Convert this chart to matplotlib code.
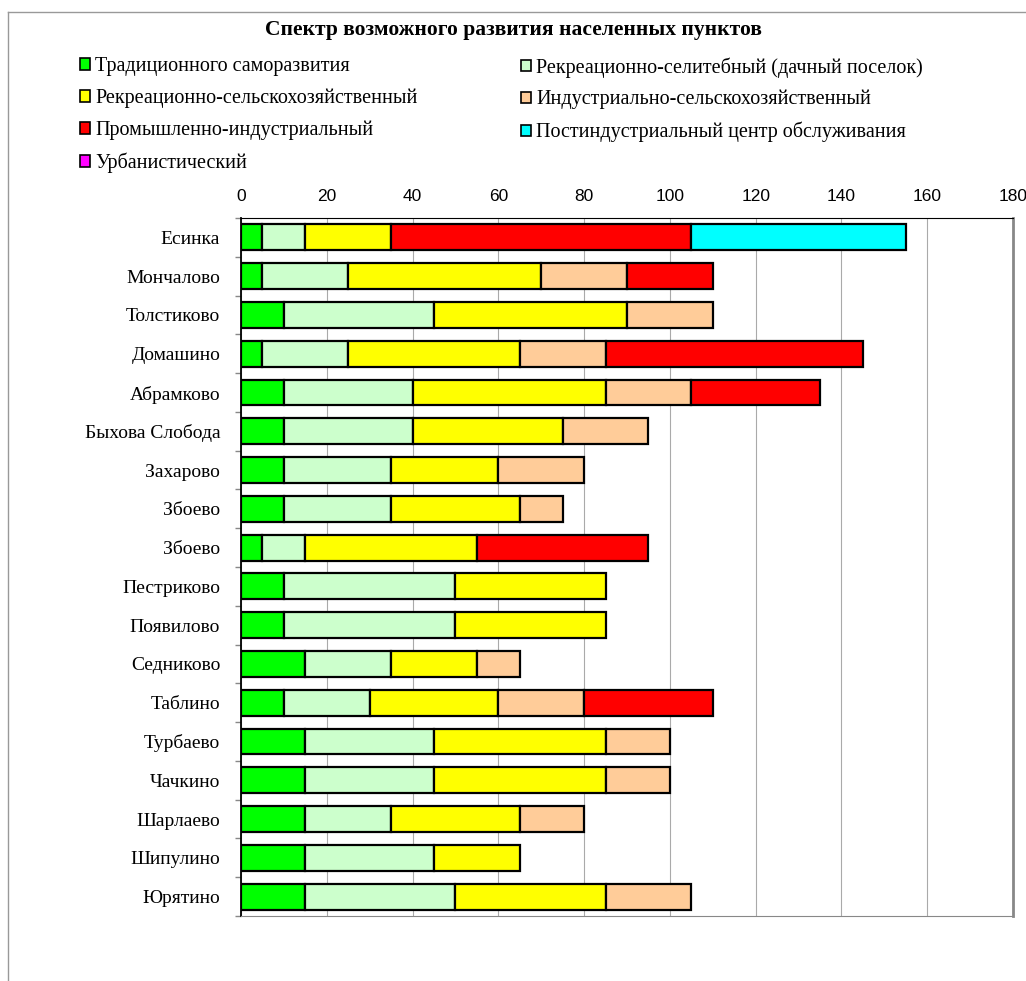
import numpy as np
import matplotlib.pyplot as plt
from matplotlib.patches import Patch
from matplotlib.lines import Line2D

places = ['Есинка', 'Мончалово', 'Толстиково', 'Домашино', 'Абрамково',
          'Быхова Слобода', 'Захарово', 'Збоево', 'Збоево', 'Пестриково',
          'Появилово', 'Седниково', 'Таблино', 'Турбаево', 'Чачкино',
          'Шарлаево', 'Шипулино', 'Юрятино']

series_names = ['Традиционного саморазвития',
                'Рекреационно-селитебный (дачный поселок)',
                'Рекреационно-сельскохозяйственный',
                'Индустриально-сельскохозяйственный',
                'Промышленно-индустриальный',
                'Постиндустриальный центр обслуживания',
                'Урбанистический']

traditional = [5, 5, 10, 5, 10, 10, 10, 10, 5, 10, 10, 15, 10, 15, 15, 15, 15, 15]
rec_selit = [10, 20, 35, 20, 30, 30, 25, 25, 10, 40, 40, 20, 20, 30, 30, 20, 30, 35]
rec_agri = [20, 45, 45, 40, 45, 35, 25, 30, 40, 35, 35, 20, 30, 40, 40, 30, 20, 35]
ind_agri = [0, 20, 20, 20, 20, 20, 20, 10, 0, 0, 0, 10, 20, 15, 15, 15, 0, 20]
prom_ind = [70, 20, 0, 60, 30, 0, 0, 0, 40, 0, 0, 0, 30, 0, 0, 0, 0, 0]
postind = [50, 0, 0, 0, 0, 0, 0, 0, 0, 0, 0, 0, 0, 0, 0, 0, 0, 0]
urban = [0] * 18

colors = ['#00FF00', '#CCFFCC', '#FFFF00', '#FFCC99', '#FF0000', '#00FFFF', '#FF00FF']
xticks = list(range(0, 181, 20))

serif = ['Liberation Serif', 'DejaVu Serif']
sans = ['Liberation Sans', 'DejaVu Sans']

fig = plt.figure(figsize=(10.26, 9.81), dpi=100)
ax = fig.add_axes([241/1026, 1 - 916/981, 772/1026, 698/981])

data = np.array([traditional, rec_selit, rec_agri, ind_agri, prom_ind, postind, urban], dtype=float)
y = np.arange(len(places))
left = np.zeros(len(places))
for vals, col in zip(data, colors):
    m = vals > 0
    ax.barh(y[m], vals[m], left=left[m], height=0.67, color=col,
            edgecolor='black', linewidth=1.6, zorder=3)
    left += vals

ax.set_ylim(len(places) - 0.5, -0.5)
ax.set_xlim(0, 180)
ax.set_yticks(y)
ax.set_yticklabels(places, family=serif, fontsize=14)
ax.set_yticks(np.arange(-0.5, len(places)), minor=True)
ax.tick_params(axis='y', which='major', length=0, pad=15)
ax.tick_params(axis='y', which='minor', length=4, color='#888888', width=1)

ax.xaxis.tick_top()
ax.set_xticks(xticks)
ax.set_xticklabels([str(t) for t in xticks], family=sans, fontsize=12.5)
ax.tick_params(axis='x', length=0, pad=10)
ax.grid(axis='x', color='#aaaaaa', linewidth=0.8, zorder=0)

ax.spines['top'].set_color('black')
ax.spines['left'].set_color('black')
ax.spines['left'].set_linewidth(1.3)
ax.spines['bottom'].set_color('#888888')
ax.spines['right'].set_color('#888888')
ax.spines['right'].set_linewidth(2)

fig.text(513/1026, 1 - 30/981, 'Спектр возможного развития населенных пунктов',
         ha='center', va='center', family=serif, fontsize=15.5, weight='bold')

handles = [Patch(facecolor=c, edgecolor='black', linewidth=1.2) for c in colors]
leg_kw = dict(loc='upper left', frameon=False, prop={'family': serif, 'size': 14.5},
              handlelength=0.5, handleheight=0.5, handletextpad=0.25,
              labelspacing=0.62, borderpad=0, borderaxespad=0)
for idx, x0 in [([0, 2, 4, 6], 80), ([1, 3, 5], 521)]:
    fig.legend([handles[i] for i in idx], [series_names[i] for i in idx],
               bbox_to_anchor=(x0/1026, 1 - 57/981), **leg_kw)

fig.add_artist(Line2D([8/1026, 8/1026], [0, 1 - 12/981], transform=fig.transFigure,
                      color='#999999', linewidth=1))
fig.add_artist(Line2D([8/1026, 1], [1 - 12/981, 1 - 12/981], transform=fig.transFigure,
                      color='#999999', linewidth=1))

fig.savefig('out.png', dpi=100)
